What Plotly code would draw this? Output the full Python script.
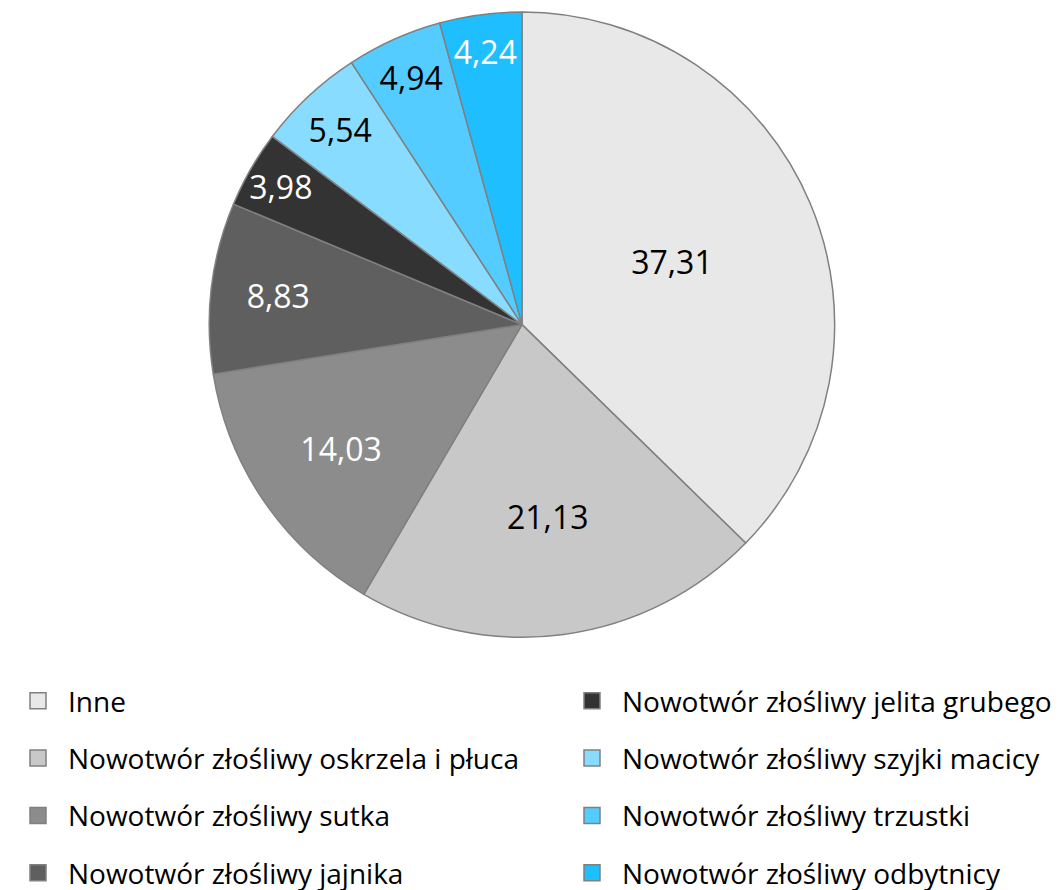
import plotly.graph_objects as go

categories = [
    "Inne",
    "Nowotwór złośliwy oskrzela i płuca",
    "Nowotwór złośliwy sutka",
    "Nowotwór złośliwy jajnika",
    "Nowotwór złośliwy jelita grubego",
    "Nowotwór złośliwy szyjki macicy",
    "Nowotwór złośliwy trzustki",
    "Nowotwór złośliwy odbytnicy",
]
values = [37.31, 21.13, 14.03, 8.83, 3.98, 5.54, 4.94, 4.24]
colors = ["#E8E8E8", "#C8C8C8", "#8C8C8C", "#5F5F5F", "#333333", "#87DCFF", "#55CCFF", "#1FBFFF"]
text_colors = ["black", "black", "white", "white", "white", "black", "black", "white"]

FONT = "Open Sans"
W, H = 1064, 890
CX, CY, R = 514, 319.5, 315.5

fig = go.Figure()
fig.add_trace(go.Pie(
    labels=categories,
    values=values,
    sort=False,
    direction="clockwise",
    rotation=0,
    marker=dict(colors=colors, line=dict(color="#808080", width=1.5)),
    texttemplate="%{value:.2f}",
    textposition="inside",
    insidetextorientation="horizontal",
    textfont=dict(family=FONT, size=32, color=text_colors),
    showlegend=False,
    hoverinfo="label+value",
    domain=dict(x=[(CX - R) / W, (CX + R) / W], y=[1 - (CY + R) / H, 1 - (CY - R) / H]),
))

for i, (cat, col) in enumerate(zip(categories, colors)):
    fig.add_trace(go.Scatter(
        x=[None], y=[None], mode="markers", name=cat,
        marker=dict(symbol="square", size=30, color=col, line=dict(color="#808080", width=1.5)),
        legend="legend" if i < 4 else "legend2",
        legendgroup=cat,
    ))

legend_common = dict(
    font=dict(family=FONT, size=28, color="black"),
    traceorder="grouped",
    tracegroupgap=18,
    itemwidth=50,
    yanchor="top",
    xanchor="left",
    bgcolor="rgba(0,0,0,0)",
    itemclick=False,
)
fig.update_layout(
    width=W, height=H,
    margin=dict(l=0, r=0, t=0, b=0),
    paper_bgcolor="white", plot_bgcolor="white",
    separators=", ",
    uniformtext=dict(minsize=32, mode="show"),
    xaxis=dict(visible=False), yaxis=dict(visible=False),
    legend=dict(x=0, y=1 - 674 / H, **legend_common),
    legend2=dict(x=554 / W, y=1 - 674 / H, **legend_common),
    showlegend=True,
)

fig.write_html("out.html")
